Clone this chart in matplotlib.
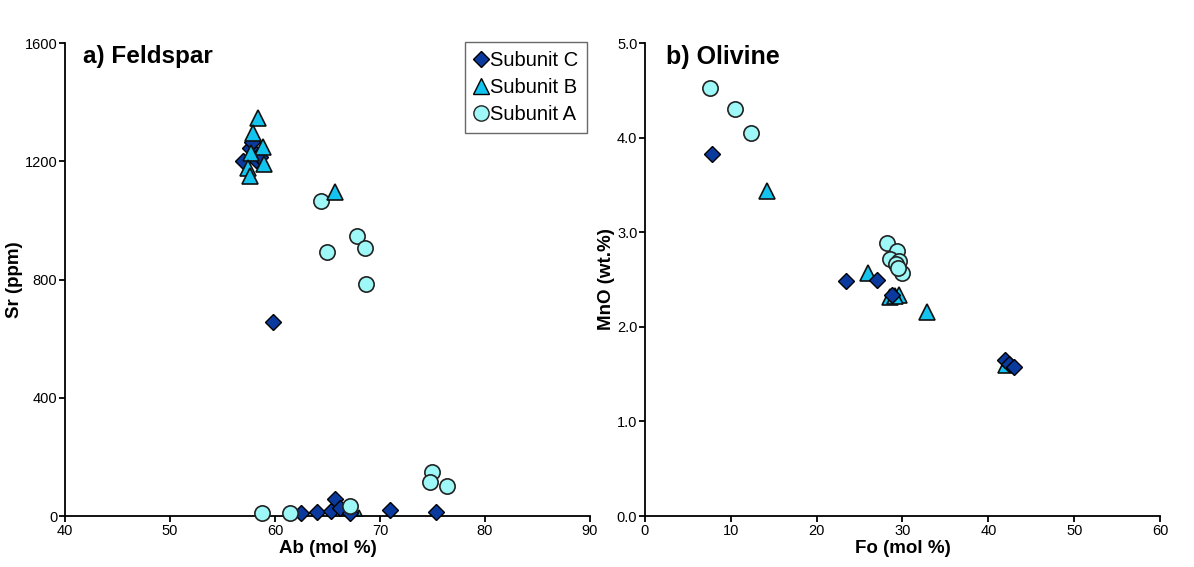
import matplotlib
matplotlib.use("Agg")
import matplotlib.pyplot as plt
from matplotlib.lines import Line2D

plt.rcParams['font.family'] = ['Liberation Sans', 'DejaVu Sans']

# ---- Feldspar data (Ab mol %, Sr ppm) ----
fs_c_ab = [57.0, 57.6, 58.2, 58.6, 57.8, 59.8, 62.5, 64.0, 65.3, 65.7, 66.2, 67.1, 71.0, 75.3]
fs_c_sr = [1200, 1245, 1205, 1215, 1265, 657, 10, 13, 18, 56, 27, 10, 20, 12]
fs_b_ab = [58.4, 57.9, 58.9, 57.7, 59.0, 57.4, 57.6, 65.7]
fs_b_sr = [1346, 1296, 1248, 1228, 1192, 1177, 1150, 1096]
fs_b_ab_edge = [68.0]   # triangle sitting on the x axis, mostly hidden
fs_b_sr_edge = [-8]
fs_a_ab = [64.4, 67.8, 68.6, 65.0, 68.7, 58.8, 61.4, 67.1, 75.0, 74.8, 76.4]
fs_a_sr = [1066, 948, 906, 893, 785, 10, 10, 35, 150, 116, 102]

# ---- Olivine data (Fo mol %, MnO wt.%) ----
ol_c_fo = [7.75, 23.4, 27.0, 28.8, 41.9, 42.4, 43.0]
ol_c_mn = [3.83, 2.48, 2.49, 2.34, 1.65, 1.61, 1.58]
ol_b_fo = [14.2, 26.0, 28.5, 29.6, 29.1, 32.8, 42.1]
ol_b_mn = [3.44, 2.57, 2.32, 2.34, 2.33, 2.16, 1.60]
ol_a_fo = [7.6, 10.5, 12.4, 28.2, 29.4, 28.6, 29.6, 29.2, 29.9, 29.5]
ol_a_mn = [4.52, 4.30, 4.05, 2.89, 2.80, 2.72, 2.70, 2.66, 2.57, 2.62]

labels = ['Subunit C', 'Subunit B', 'Subunit A']
col_c = '#0a3a9e'
col_b = '#12c4ee'
col_a = '#9ff8f8'

fig = plt.figure(figsize=(11.94, 5.67), dpi=100)
ax1 = fig.add_axes([0.0544, 0.0899, 0.4397, 0.8342])
ax2 = fig.add_axes([0.5402, 0.0899, 0.4313, 0.8342])

def style(ax):
    for s in ['top', 'right']:
        ax.spines[s].set_visible(False)
    for s in ['left', 'bottom']:
        ax.spines[s].set_linewidth(1.3)
    ax.tick_params(direction='out', length=4, width=1.3, labelsize=10.5, pad=1.5)

def plot_sets(ax, cx, cy, bx, by, axx, ay, zc, za, zb):
    ax.plot(cx, cy, 'D', ms=8, mfc=col_c, mec='#000000', mew=1.0, ls='none', clip_on=False, zorder=zc)
    ax.plot(axx, ay, 'o', ms=11, mfc=col_a, mec='#222222', mew=1.2, ls='none', clip_on=False, zorder=za)
    ax.plot(bx, by, '^', ms=11.5, mfc=col_b, mec='#111111', mew=1.2, ls='none', clip_on=False, zorder=zb)

plot_sets(ax1, fs_c_ab, fs_c_sr, fs_b_ab, fs_b_sr, fs_a_ab, fs_a_sr, 3, 4, 5)
ax1.plot(fs_b_ab_edge, fs_b_sr_edge, '^', ms=11.5, mfc=col_b, mec='#111111', mew=1.2,
         ls='none', clip_on=True, zorder=2)
ax1.set_xlim(40, 90)
ax1.set_ylim(0, 1600)
ax1.set_xticks([40, 50, 60, 70, 80, 90])
ax1.set_yticks([0, 400, 800, 1200, 1600])
ax1.set_xlabel('Ab (mol %)', fontsize=13.5, fontweight='bold', labelpad=2)
ax1.set_ylabel('Sr (ppm)', fontsize=13.5, fontweight='bold', labelpad=1)
ax1.text(0.035, 0.995, 'a) Feldspar', transform=ax1.transAxes, fontsize=17.5,
         fontweight='bold', va='top', ha='left')
style(ax1)

handles = [
    Line2D([], [], marker='D', ms=8, mfc=col_c, mec='black', ls='none'),
    Line2D([], [], marker='^', ms=11, mfc=col_b, mec='black', ls='none'),
    Line2D([], [], marker='o', ms=11, mfc=col_a, mec='#222222', ls='none'),
]
leg = ax1.legend(handles, labels, loc='upper right', bbox_to_anchor=(0.995, 1.003),
                 fontsize=14.5, frameon=True, fancybox=False, handlelength=0.7,
                 handletextpad=0.1, borderpad=0.45, labelspacing=0.4,
                 borderaxespad=0.0)
leg.get_frame().set_edgecolor('#444444')
leg.get_frame().set_linewidth(1.0)

plot_sets(ax2, ol_c_fo, ol_c_mn, ol_b_fo, ol_b_mn, ol_a_fo, ol_a_mn, 5, 4, 3)
ax2.set_xlim(0, 60)
ax2.set_ylim(0, 5)
ax2.set_xticks([0, 10, 20, 30, 40, 50, 60])
ax2.set_yticks([0, 1, 2, 3, 4, 5])
ax2.set_yticklabels(['0.0', '1.0', '2.0', '3.0', '4.0', '5.0'])
ax2.set_xlabel('Fo (mol %)', fontsize=13.5, fontweight='bold', labelpad=2)
ax2.set_ylabel('MnO (wt.%)', fontsize=13.5, fontweight='bold', labelpad=1)
ax2.text(0.04, 0.995, 'b) Olivine', transform=ax2.transAxes, fontsize=18,
         fontweight='bold', va='top', ha='left')
style(ax2)

fig.savefig('out.png', dpi=100)
